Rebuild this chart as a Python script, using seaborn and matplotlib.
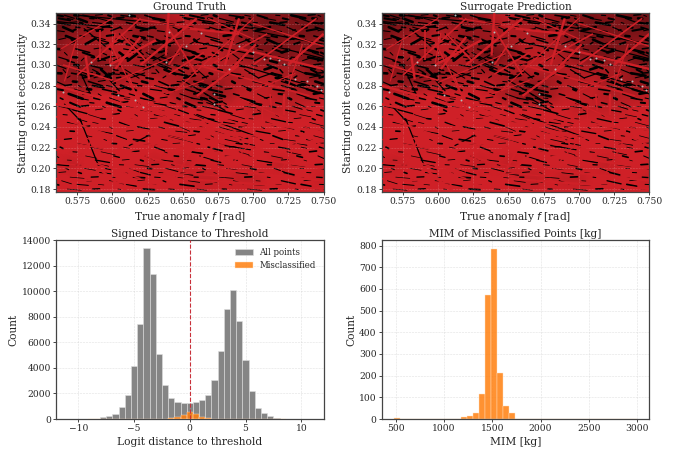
import numpy as np
import pandas as pd
import matplotlib
matplotlib.use('Agg')
import matplotlib.pyplot as plt
from matplotlib.colors import LinearSegmentedColormap
import seaborn as sns

sns.set_style('white')
plt.rcParams['font.family'] = ['DejaVu Serif']

# signed distance histogram, counts read per bin
logit_bins = list(range(-16, 16))
logit_all = [30, 40, 130, 200, 430, 920, 1850, 4150, 7400, 13350, 11350, 5050, 2670, 1620, 1330, 1250,
             1230, 1350, 1500, 1900, 3050, 5350, 8600, 10100, 7700, 4600, 2200, 900, 450, 200, 70, 40]
logit_mis = [0, 0, 0, 0, 0, 0, 0, 0, 0, 0, 0, 0, 10, 50, 130, 330,
             560, 380, 170, 60, 30, 5, 0, 0, 0, 0, 0, 0, 0, 0, 0, 0]
logit_width = 0.555

# MIM histogram
mim_bins = list(range(40))
mim_counts = [5, 0, 0, 0, 0, 0, 0, 0, 0, 0, 0, 8, 15, 26, 115, 570, 783, 210, 60, 28,
              2, 0, 0, 0, 0, 0, 2, 0, 0, 0, 2, 2, 0, 0, 0, 0, 0, 0, 2, 0]
mim_start = 480
mim_width = 63

# how red each part of the scatter looks, top row first (f 0.56 -> 0.75)
redness = [
    [.30,.35,.40,.45,.45,.40,.45,.55,.65,.70,.60,.55,.55,.50,.50,.45,.50,.45,.40,.40],
    [.35,.45,.50,.55,.60,.55,.55,.55,.60,.65,.60,.60,.55,.50,.45,.40,.45,.45,.40,.40],
    [.45,.55,.60,.60,.70,.65,.50,.55,.55,.60,.65,.65,.60,.55,.50,.45,.45,.45,.50,.50],
    [.55,.60,.60,.55,.65,.70,.60,.45,.40,.50,.65,.70,.65,.60,.50,.45,.45,.50,.45,.45],
    [.55,.50,.45,.45,.50,.60,.60,.55,.60,.60,.65,.70,.65,.65,.65,.60,.60,.60,.50,.40],
    [.55,.55,.50,.55,.60,.65,.65,.70,.65,.60,.55,.55,.60,.65,.65,.70,.60,.60,.55,.50],
    [.75,.70,.70,.75,.75,.80,.75,.75,.70,.60,.55,.50,.60,.70,.70,.70,.65,.65,.65,.70],
    [.85,.85,.80,.85,.85,.85,.85,.85,.80,.80,.80,.75,.75,.75,.70,.70,.70,.70,.75,.75],
    [.85,.85,.85,.90,.90,.90,.90,.90,.85,.85,.85,.85,.85,.80,.80,.80,.80,.85,.85,.80],
    [.85,.85,.85,.85,.85,.90,.90,.90,.90,.85,.85,.85,.85,.85,.80,.85,.85,.85,.85,.85],
    [.85,.80,.85,.90,.85,.85,.85,.85,.85,.85,.85,.85,.85,.85,.85,.85,.85,.85,.85,.85],
    [.75,.70,.75,.80,.75,.75,.75,.70,.75,.70,.75,.75,.80,.75,.80,.75,.70,.75,.80,.80],
    [.80,.80,.85,.85,.80,.80,.80,.80,.75,.75,.70,.70,.75,.70,.70,.75,.80,.75,.75,.70],
    [.85,.85,.90,.90,.90,.90,.85,.90,.85,.85,.85,.85,.85,.85,.85,.85,.85,.85,.85,.85],
]
grid_f = [0.56, 0.57, 0.58, 0.59, 0.60, 0.61, 0.62, 0.63, 0.64, 0.65, 0.66, 0.67, 0.68, 0.69, 0.70, 0.71, 0.72, 0.73, 0.74, 0.75]
grid_e = [0.35, 0.337, 0.324, 0.31, 0.297, 0.284, 0.27, 0.257, 0.244, 0.231, 0.217, 0.204, 0.19, 0.177]

# bright streaks (f0, e0, f1, e1)
red_streaks = [
    (.640,.350,.638,.309), (.602,.331,.598,.302), (.591,.334,.591,.305), (.581,.309,.5835,.286),
    (.598,.322,.620,.262), (.612,.288,.620,.258), (.598,.300,.631,.324), (.574,.322,.566,.284),
    (.606,.330,.624,.304), (.620,.327,.602,.296), (.600,.283,.648,.311), (.640,.291,.665,.312),
    (.655,.335,.690,.330), (.668,.345,.700,.325), (.672,.302,.710,.330), (.680,.290,.702,.320),
    (.700,.275,.730,.292), (.712,.272,.713,.256), (.722,.272,.722,.252), (.706,.262,.706,.240),
    (.735,.258,.750,.243), (.660,.270,.690,.300), (.630,.268,.665,.285), (.650,.320,.640,.300),
    (.560,.262,.640,.240), (.575,.252,.660,.225), (.590,.270,.680,.232), (.620,.262,.700,.225),
    (.650,.245,.750,.218), (.600,.228,.700,.210), (.640,.222,.750,.200), (.560,.238,.640,.205),
    (.560,.218,.620,.190), (.585,.206,.610,.178), (.625,.222,.605,.190), (.640,.236,.615,.205),
    (.680,.232,.655,.200), (.700,.228,.680,.196), (.560,.190,.640,.183), (.650,.190,.750,.180),
    (.690,.268,.750,.232), (.720,.240,.750,.222), (.670,.200,.750,.188), (.560,.205,.680,.192),
    (.660,.300,.740,.270), (.690,.316,.750,.296), (.700,.340,.750,.318), (.565,.300,.600,.285),
    (.560,.280,.600,.265), (.615,.345,.660,.335), (.630,.250,.700,.240), (.675,.250,.750,.235),
    (.563,.315,.600,.345), (.575,.290,.620,.345), (.620,.300,.660,.345), (.645,.275,.700,.345),
    (.700,.300,.745,.345), (.725,.300,.750,.330), (.600,.270,.650,.260), (.640,.335,.660,.290),
    (.690,.345,.680,.300), (.735,.320,.725,.280), (.590,.240,.575,.200), (.665,.240,.645,.190),
    (.735,.235,.715,.185), (.560,.250,.620,.222), (.610,.240,.720,.215), (.560,.228,.660,.200),
]
# longer dark streaks (f0, e0, f1, e1)
black_streaks = [
    (.560,.342,.600,.336), (.575,.348,.620,.342), (.650,.346,.700,.335), (.700,.333,.750,.320),
    (.660,.322,.700,.310), (.715,.318,.750,.306), (.665,.268,.680,.256), (.650,.285,.675,.265),
    (.575,.300,.585,.270), (.595,.290,.605,.275), (.605,.330,.622,.310), (.580,.335,.595,.318),
    (.690,.300,.740,.280), (.720,.284,.750,.272), (.577,.248,.590,.203), (.566,.262,.578,.245),
    (.626,.232,.612,.222), (.660,.252,.700,.232), (.680,.222,.698,.218), (.632,.302,.642,.296),
]

# short dark flecks: one row per eccentricity, f values in thousandths
fleck_e = [.348, .345, .341, .3365, .333, .328, .3245, .320, .3155, .312, .3075, .304, .300, .2955, .292,
           .2875, .284, .280, .2765, .272, .268, .2635, .260, .2565, .252, .248, .2445, .240, .236, .2315,
           .228, .224, .2205, .216, .212, .208, .2035, .200, .196, .1915, .188, .1845, .180]
# lean of the flecks in each row, read by eye
fleck_slope = [.25, .30, .20, .35, -.30, .30, .50, -.45, .30, .60, .25, -.60, .30, .70, .20,
               -.40, .35, .30, .25, .40, .30, .35, .25, .30, .35, .25, .30, .35, .20, .30,
               .25, .15, .30, .25, .35, .20, .15, .30, .20, .10, .25, .15, .10]
fleck_f = [
    [561, 566, 573, 579, 588, 597, 606, 612, 623, 648, 655, 663, 672, 683, 694, 703, 716, 727, 739, 746],
    [562, 568, 575, 584, 590, 603, 618, 629, 651, 659, 668, 676, 688, 697, 708, 721, 733, 742],
    [560, 570, 577, 586, 596, 610, 622, 634, 646, 657, 664, 681, 692, 700, 712, 719, 730, 741, 748],
    [565, 574, 582, 593, 605, 617, 627, 643, 654, 669, 678, 686, 699, 707, 724, 735, 744],
    [561, 572, 580, 589, 599, 611, 620, 632, 647, 661, 673, 684, 693, 702, 715, 728, 738, 746],
    [567, 577, 585, 596, 607, 615, 625, 637, 652, 666, 679, 690, 704, 713, 722, 733, 743],
    [562, 571, 590, 603, 613, 622, 631, 644, 658, 670, 682, 695, 701, 710, 726, 737, 747],
    [569, 581, 594, 601, 610, 619, 629, 640, 655, 665, 688, 698, 708, 717, 729, 740],
    [560, 574, 587, 598, 608, 616, 628, 636, 649, 662, 676, 691, 703, 714, 723, 736, 745],
    [566, 579, 592, 605, 612, 624, 633, 645, 657, 671, 684, 697, 709, 720, 732, 742, 748],
    [562, 572, 585, 597, 607, 618, 626, 635, 641, 653, 668, 680, 692, 706, 718, 727, 739],
    [568, 578, 590, 601, 611, 620, 629, 634, 640, 650, 663, 677, 689, 701, 712, 725, 735, 746],
    [560, 573, 583, 595, 604, 615, 625, 632, 638, 644, 658, 672, 686, 699, 710, 721, 734, 743],
    [565, 575, 586, 592, 601, 609, 622, 631, 637, 647, 660, 675, 694, 708, 719, 730, 741, 748],
    [561, 571, 581, 589, 597, 606, 616, 628, 643, 656, 669, 683, 697, 713, 726, 737, 745],
    [568, 579, 587, 594, 603, 613, 624, 636, 651, 664, 678, 690, 704, 716, 729, 740, 747],
    [560, 572, 583, 590, 600, 610, 621, 633, 646, 658, 671, 685, 700, 711, 723, 734, 744],
    [566, 576, 586, 596, 606, 618, 630, 642, 654, 662, 674, 692, 707, 720, 732, 742, 748],
    [561, 573, 582, 593, 603, 615, 627, 640, 652, 660, 668, 680, 696, 714, 727, 738, 746],
    [569, 579, 590, 600, 612, 622, 637, 648, 658, 666, 672, 686, 703, 718, 731, 743],
    [563, 575, 587, 598, 609, 620, 634, 646, 656, 663, 669, 675, 691, 708, 725, 737, 747],
    [570, 584, 596, 606, 618, 630, 641, 652, 661, 667, 673, 679, 698, 716, 730, 744],
    [562, 578, 593, 610, 624, 638, 650, 664, 672, 680, 694, 712, 728, 741],
    [572, 588, 604, 620, 633, 647, 660, 675, 688, 703, 722, 738, 748],
    [565, 583, 600, 616, 630, 644, 658, 670, 684, 700, 716, 733, 745],
    [575, 592, 612, 627, 641, 655, 668, 682, 697, 713, 729, 742],
    [568, 586, 605, 622, 637, 652, 666, 679, 692, 709, 725, 740],
    [579, 598, 618, 633, 648, 662, 676, 690, 706, 721, 736, 748],
    [570, 590, 610, 628, 645, 658, 673, 688, 702, 718, 734, 746],
    [582, 603, 624, 640, 654, 670, 684, 699, 714, 730, 743],
    [566, 594, 615, 635, 650, 666, 680, 691, 705, 722, 738],
    [575, 600, 622, 643, 660, 676, 688, 694, 712, 728, 745],
    [563, 585, 608, 630, 648, 668, 683, 700, 718, 734, 747],
    [572, 592, 614, 637, 656, 672, 690, 708, 724, 740],
    [560, 581, 601, 623, 644, 662, 680, 697, 713, 731, 746],
    [568, 588, 607, 620, 635, 652, 670, 686, 703, 720, 736],
    [561, 574, 590, 605, 616, 628, 642, 658, 675, 692, 710, 727, 744],
    [567, 580, 595, 612, 625, 638, 650, 664, 681, 698, 715, 733, 748],
    [562, 576, 591, 607, 620, 633, 647, 660, 672, 688, 704, 722, 738],
    [570, 585, 600, 615, 630, 645, 658, 676, 694, 710, 728, 745],
    [564, 582, 598, 618, 636, 654, 670, 686, 702, 720, 736],
    [560, 575, 590, 610, 628, 648, 666, 683, 700, 716, 734, 747],
    [568, 586, 604, 622, 640, 660, 678, 696, 712, 730, 744],
]
fleck_len = [0.004, 0.007, 0.003, 0.010, 0.005, 0.002, 0.008]
fleck_lean = [1.0, 1.7, 0.4, 1.2, -0.6, 2.2, 0.8]
fleck_lw = [1.2, 0.7, 1.5, 0.9, 0.6]

# pale specks in the upper part
speck_f = [.585, .598, .604, .616, .622, .640, .652, .663, .672, .683, .690, .700, .708, .712, .718, .722, .730, .738, .745, .748, .565, .612, .672, .638]
speck_e = [.303, .300, .271, .266, .259, .332, .318, .331, .272, .296, .318, .312, .306, .307, .305, .301, .286, .284, .280, .276, .274, .348, .262, .303]

GREY = '#7f7f7f'
ORANGE = '#ff7f0e'
RED = '#cf2027'
SPINE = '#444444'
TEXT = '#262626'

fig, axes = plt.subplots(2, 2, figsize=(6.86, 4.54), dpi=100)
fig.subplots_adjust(left=0.0816, right=0.9465, top=0.971, bottom=0.077, wspace=0.217, hspace=0.268)

cmap = LinearSegmentedColormap.from_list('redblack', ['#000000', RED])
red_df = pd.DataFrame(red_streaks, columns=['f0', 'e0', 'f1', 'e1'])
black_df = pd.DataFrame(black_streaks, columns=['f0', 'e0', 'f1', 'e1'])


def draw_scatter(ax, title):
    ax.pcolormesh(grid_f, grid_e, redness, cmap=cmap, vmin=0.0, vmax=0.75, shading='gouraud', zorder=1)
    for _, s in black_df.iterrows():
        ax.plot([s.f0, s.f1], [s.e0, s.e1], color='black', lw=0.9, zorder=2)
    n = 0
    for e, lean, row in zip(fleck_e, fleck_slope, fleck_f):
        for f in row:
            d = fleck_len[n % len(fleck_len)]
            k = lean * fleck_lean[n % len(fleck_lean)]
            w = fleck_lw[n % len(fleck_lw)] * (1.25 if e > 0.262 else 0.8)
            n += 1
            ax.plot([f / 1000, f / 1000 + d], [e, e - d * k], color='black', lw=w, zorder=2)
    # the strands run over the flecks
    for i, s in red_df.iterrows():
        ax.plot([s.f0, s.f1], [s.e0, s.e1], color=RED, lw=[1.7, 0.9, 1.2][i % 3], zorder=3, solid_capstyle='butt')
    sns.scatterplot(x=speck_f, y=speck_e, ax=ax, color='#b8b8b8', s=2, linewidth=0, zorder=5)
    ax.set_xlim(0.56, 0.75)
    ax.set_ylim(0.177, 0.35)
    ax.set_xticks([0.575, 0.6, 0.625, 0.65, 0.675, 0.7, 0.725, 0.75])
    ax.set_yticks([0.18, 0.2, 0.22, 0.24, 0.26, 0.28, 0.3, 0.32, 0.34])
    ax.xaxis.set_major_formatter('{x:.3f}')
    ax.yaxis.set_major_formatter('{x:.2f}')
    ax.set_xlabel('True anomaly $f$ [rad]', fontsize=7.7, color=TEXT, labelpad=3)
    ax.set_ylabel('Starting orbit eccentricity', fontsize=7.7, color=TEXT, labelpad=2)
    ax.set_title(title, fontsize=7.6, color=TEXT, pad=2)


draw_scatter(axes[0, 0], 'Ground Truth')
draw_scatter(axes[0, 1], 'Surrogate Prediction')

# signed distance
ax = axes[1, 0]
centers = np.array(logit_bins) * logit_width
edges = ((np.array(logit_bins + [logit_bins[-1] + 1]) - 0.5) * logit_width).tolist()
sns.histplot(x=centers, weights=logit_all, bins=edges, ax=ax, color=GREY, alpha=0.95,
             edgecolor='#dddddd', linewidth=0.4, label='All points', zorder=2)
sns.histplot(x=centers, weights=logit_mis, bins=edges, ax=ax, color=ORANGE, alpha=0.85,
             edgecolor='#ffe0c0', linewidth=0.3, label='Misclassified', zorder=3)
ax.axvline(0, color='#c9303a', ls='--', lw=0.8, zorder=4)
ax.set_xlim(-12, 12)
ax.set_ylim(0, 14000)
ax.set_xticks([-10, -5, 0, 5, 10])
ax.set_xticklabels(['\u221210', '\u22125', '0', '5', '10'])
ax.set_yticks(range(0, 14001, 2000))
ax.set_xlabel('Logit distance to threshold', fontsize=7.7, color=TEXT, labelpad=3)
ax.set_ylabel('Count', fontsize=7.7, color=TEXT, labelpad=2)
ax.set_title('Signed Distance to Threshold', fontsize=7.6, color=TEXT, pad=2)
ax.legend(frameon=False, fontsize=6.2, loc='upper right', labelcolor=TEXT)

# MIM
ax = axes[1, 1]
mim_edges = mim_start + mim_width * np.arange(len(mim_bins) + 1)
mim_centers = mim_edges[:-1] + mim_width / 2
sns.histplot(x=mim_centers, weights=mim_counts, bins=mim_edges.tolist(), ax=ax, color=ORANGE, alpha=0.85,
             edgecolor='#ffe0c0', linewidth=0.3, zorder=2)
ax.set_xlim(354, 3126)
ax.set_ylim(0, 825)
ax.set_xticks([500, 1000, 1500, 2000, 2500, 3000])
ax.set_yticks(range(0, 801, 100))
ax.set_xlabel('MIM [kg]', fontsize=7.7, color=TEXT, labelpad=3)
ax.set_ylabel('Count', fontsize=7.7, color=TEXT, labelpad=2)
ax.set_title('MIM of Misclassified Points [kg]', fontsize=7.6, color=TEXT, pad=2)

for i, ax in enumerate(axes.flat):
    ax.grid(True, ls='--', lw=0.4, color='#cccccc' if i > 1 else '#ffffff', alpha=0.6 if i > 1 else 0.25, zorder=6 if i < 2 else 0)
    ax.set_axisbelow(i > 1)
    ax.tick_params(labelsize=6.6, length=2.2, width=0.6, pad=1.5, colors=TEXT, bottom=True, left=True)
    for sp in ax.spines.values():
        sp.set_color(SPINE)
        sp.set_linewidth(0.9)

fig.savefig('out.png', dpi=100)
